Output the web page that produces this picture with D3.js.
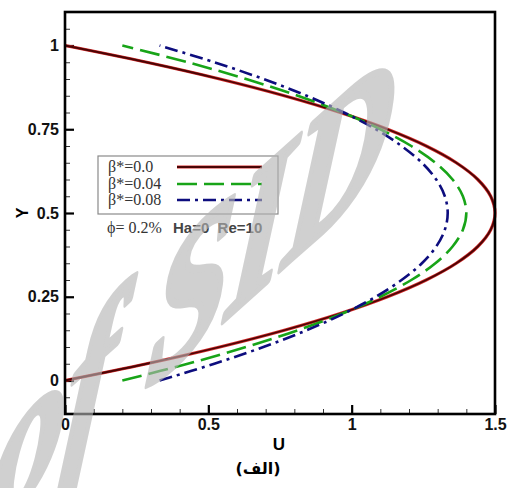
<!DOCTYPE html>
<html>
<head>
<meta charset="utf-8">
<script src="https://cdn.jsdelivr.net/npm/d3@7/dist/d3.min.js"></script>
<style>
  html, body { margin: 0; padding: 0; background: #fff; }
  svg { display: block; }
</style>
</head>
<body>
<svg id="chart" width="508" height="488"></svg>
<script>
// Velocity profiles across the channel height
const yPos = [0, 0.05, 0.1, 0.15, 0.2, 0.25, 0.3, 0.35, 0.4, 0.45, 0.5,
              0.55, 0.6, 0.65, 0.7, 0.75, 0.8, 0.85, 0.9, 0.95, 1];
const uBeta000 = [0, 0.285, 0.54, 0.765, 0.96, 1.125, 1.26, 1.365, 1.44, 1.485, 1.5,
                  1.485, 1.44, 1.365, 1.26, 1.125, 0.96, 0.765, 0.54, 0.285, 0];
const uBeta004 = [0.2, 0.428, 0.632, 0.812, 0.968, 1.1, 1.208, 1.292, 1.352, 1.388, 1.4,
                  1.388, 1.352, 1.292, 1.208, 1.1, 0.968, 0.812, 0.632, 0.428, 0.2];
const uBeta008 = [0.33, 0.521, 0.692, 0.843, 0.973, 1.084, 1.174, 1.245, 1.295, 1.325, 1.335,
                  1.325, 1.295, 1.245, 1.174, 1.084, 0.973, 0.843, 0.692, 0.521, 0.33];
const seriesNames = ["β*=0.0", "β*=0.04", "β*=0.08"];

const xTicks = [0, 0.5, 1, 1.5];
const xMinorTicks = [0.1, 0.2, 0.3, 0.4, 0.6, 0.7, 0.8, 0.9, 1.1, 1.2, 1.3, 1.4];
const yTicks = [0, 0.25, 0.5, 0.75, 1];
const yMinorTicks = [-0.05, 0.05, 0.1, 0.15, 0.2, 0.3, 0.35, 0.4, 0.45, 0.55, 0.6, 0.65,
                     0.7, 0.8, 0.85, 0.9, 0.95, 1.05];

const svg = d3.select("#chart");
const plotLeft = 65, plotRight = 495, plotTop = 12, plotBottom = 414;

const x = d3.scaleLinear().domain([0, 1.5]).range([plotLeft, plotRight]);
const y = d3.scaleLinear().domain([-0.1, 1.1]).range([plotBottom, plotTop]);

const fmt = d => String(d);

// minor ticks (inward)
svg.append("g").attr("transform", `translate(${plotLeft},0)`)
  .call(d3.axisLeft(y).tickValues(yMinorTicks).tickSize(-5).tickFormat(""))
  .call(g => g.select(".domain").remove())
  .call(g => g.selectAll("line").attr("stroke", "#333").attr("stroke-width", 1));
svg.append("g").attr("transform", `translate(0,${plotBottom})`)
  .call(d3.axisBottom(x).tickValues(xMinorTicks).tickSize(-5).tickFormat(""))
  .call(g => g.select(".domain").remove())
  .call(g => g.selectAll("line").attr("stroke", "#333").attr("stroke-width", 1));

// major ticks with labels
svg.append("g").attr("transform", `translate(${plotLeft},0)`)
  .call(d3.axisLeft(y).tickValues(yTicks).tickSize(-9).tickPadding(6).tickFormat(fmt))
  .call(g => g.select(".domain").remove())
  .call(g => g.selectAll("line").attr("stroke", "#000").attr("stroke-width", 2.2))
  .call(g => g.selectAll("text")
    .attr("font-family", "Liberation Sans, Arial, sans-serif")
    .attr("font-weight", "bold").attr("font-size", 16).attr("fill", "#111"));
svg.append("g").attr("transform", `translate(0,${plotBottom})`)
  .call(d3.axisBottom(x).tickValues(xTicks).tickSize(-9).tickPadding(5).tickFormat(fmt))
  .call(g => g.select(".domain").remove())
  .call(g => g.selectAll("line").attr("stroke", "#000").attr("stroke-width", 2.2))
  .call(g => g.selectAll("text")
    .attr("font-family", "Liberation Sans, Arial, sans-serif")
    .attr("font-weight", "bold").attr("font-size", 16).attr("fill", "#111"));

// curves
const line = d3.line()
  .x(d => x(d[0]))
  .y(d => y(d[1]))
  .curve(d3.curveCatmullRom.alpha(0.5));

const toPts = u => u.map((v, i) => [v, yPos[i]]);

const plot = svg.append("g");
plot.append("path").attr("d", line(toPts(uBeta000)))
  .attr("fill", "none").attr("stroke", "#d42a2a").attr("stroke-width", 3.2);
plot.append("path").attr("d", line(toPts(uBeta000)))
  .attr("fill", "none").attr("stroke", "#4a0505").attr("stroke-width", 1.8);
plot.append("path").attr("d", line(toPts(uBeta004)))
  .attr("fill", "none").attr("stroke", "#18a418").attr("stroke-width", 2.6)
  .attr("stroke-dasharray", "20 7");
plot.append("path").attr("d", line(toPts(uBeta008)))
  .attr("fill", "none").attr("stroke", "#0d0d7e").attr("stroke-width", 2.6)
  .attr("stroke-dasharray", "13 5 3 5");

// frame
svg.append("rect")
  .attr("x", plotLeft).attr("y", plotTop)
  .attr("width", plotRight - plotLeft).attr("height", plotBottom - plotTop)
  .attr("fill", "none").attr("stroke", "#000").attr("stroke-width", 2.6);

// axis titles
svg.append("text").attr("x", 279).attr("y", 450)
  .attr("text-anchor", "middle")
  .attr("font-family", "Liberation Sans, Arial, sans-serif")
  .attr("font-weight", "bold").attr("font-size", 17).text("U");
svg.append("text")
  .attr("transform", "translate(28,213) rotate(-90)")
  .attr("text-anchor", "middle")
  .attr("font-family", "Liberation Sans, Arial, sans-serif")
  .attr("font-weight", "bold").attr("font-size", 16).text("Y");
svg.append("text").attr("x", 258).attr("y", 474)
  .attr("text-anchor", "middle")
  .attr("font-family", "DejaVu Sans, sans-serif")
  .attr("font-weight", "bold").attr("font-size", 16).text("(الف)");

// legend
const legend = svg.append("g");
legend.append("rect").attr("x", 98).attr("y", 156).attr("width", 180).attr("height", 58)
  .attr("fill", "#fff").attr("stroke", "#8a8a8a").attr("stroke-width", 1.2);
const rowY = [167, 184, 200];
seriesNames.forEach((name, i) => {
  legend.append("text").attr("x", 108).attr("y", rowY[i] + 5)
    .attr("font-family", "Liberation Serif, Times New Roman, serif")
    .attr("font-size", 16).attr("fill", "#333").text(name);
});
const sample = (i, stroke, w, dash) => legend.append("line")
  .attr("x1", 177).attr("x2", 262).attr("y1", rowY[i]).attr("y2", rowY[i])
  .attr("stroke", stroke).attr("stroke-width", w)
  .attr("stroke-dasharray", dash || null);
sample(0, "#d42a2a", 3.2);
sample(0, "#4a0505", 1.8);
sample(1, "#18a418", 2.6, "20 7");
sample(2, "#0d0d7e", 2.6, "13 5 3 5");

svg.append("text").attr("x", 107).attr("y", 233)
  .attr("font-family", "Liberation Serif, Times New Roman, serif")
  .attr("font-size", 16).attr("fill", "#333").text("ϕ= 0.2%");
svg.append("text").attr("x", 173).attr("y", 233)
  .attr("font-family", "Liberation Sans, Arial, sans-serif")
  .attr("font-weight", "bold").attr("font-size", 15).attr("fill", "#444")
  .style("white-space", "pre").text("Ha=0  Re=10");

// watermark, slanted across the plot
svg.append("text")
  .attr("transform", "matrix(1.45,-1.3,-0.23,2.0,-13,533)")
  .attr("font-family", "Liberation Serif, Times New Roman, serif")
  .attr("font-style", "italic").attr("font-weight", "bold").attr("font-size", 100)
  .attr("fill", "#b4b4b4").attr("stroke", "#b4b4b4").attr("stroke-width", 3.5)
  .attr("stroke-linejoin", "round")
  .attr("opacity", 0.62)
  .style("white-space", "pre")
  .text("of SID");
</script>
</body>
</html>
